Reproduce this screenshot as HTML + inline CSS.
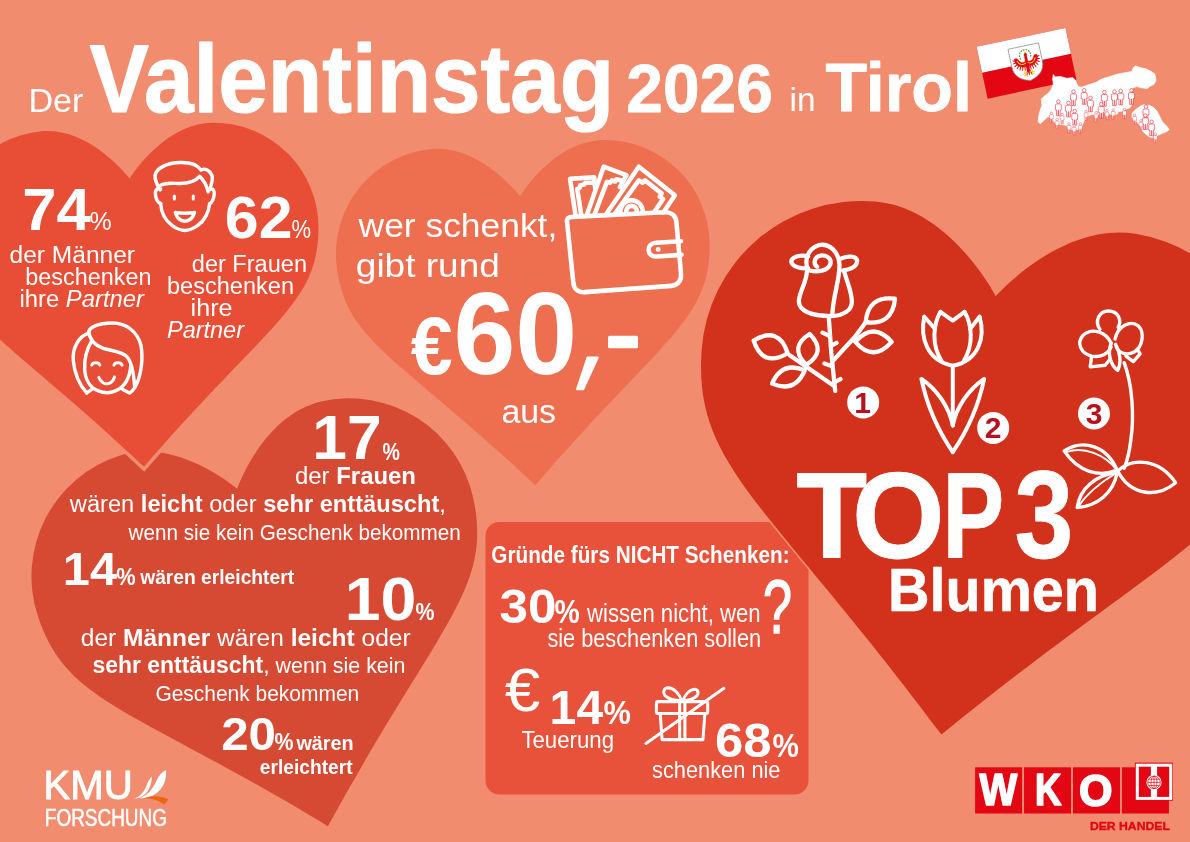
<!DOCTYPE html>
<html lang="de"><head><meta charset="utf-8"><title>Der Valentinstag 2026 in Tirol</title>
<style>
html,body{margin:0;padding:0;background:#F28C6F;}
body{width:1190px;height:842px;overflow:hidden;font-family:"Liberation Sans",sans-serif;}
svg{display:block;font-family:"Liberation Sans",sans-serif;will-change:transform;}
.ic{fill:none;stroke:#fff;stroke-linecap:round;stroke-linejoin:round;}
</style></head><body>
<svg width="1190" height="842" viewBox="0 0 1190 842">
<rect width="1190" height="842" fill="#F28C6F"/>
<!-- hearts -->
<path d="M327.9,826.2 C440.1,621.7 492.3,589.2 473.5,499.2 A126.9,126.9 0 0 0 321.1,401.4 C273.0,412.4 245.8,465.6 237.2,488.8 C218.2,473.1 167.9,440.6 120.8,455.2 A126.9,126.9 0 0 0 37.9,616.3 C66.8,703.6 128.3,705.5 327.9,826.2 Z" fill="#D64A34"/>
<path d="M535.4,485.3 C661.5,338.9 709.4,321.6 709.7,245.4 A105.1,105.1 0 0 0 603.0,139.9 C562.2,140.5 530.9,179.0 520.0,196.3 C507.3,180.3 472.1,145.3 431.5,149.1 A105.1,105.1 0 0 0 336.6,265.3 C344.9,341.0 394.5,353.2 535.4,485.3 Z" fill="#EE6E50"/>
<path d="M144.0,466.8 C270.2,321.3 318.0,304.2 318.5,228.3 A104.8,104.8 0 0 0 212.5,122.8 C171.8,123.2 140.6,161.5 129.6,178.7 C117.0,162.7 82.1,127.7 41.5,131.3 A104.8,104.8 0 0 0 -53.4,246.9 C-45.4,322.3 4.0,334.6 144.0,466.8 Z" fill="#F28C6F" stroke="#F28C6F" stroke-width="7" stroke-linejoin="miter" stroke-miterlimit="10"/>
<path d="M144.0,466.8 C270.2,321.3 318.0,304.2 318.5,228.3 A104.8,104.8 0 0 0 212.5,122.8 C171.8,123.2 140.6,161.5 129.6,178.7 C117.0,162.7 82.1,127.7 41.5,131.3 A104.8,104.8 0 0 0 -53.4,246.9 C-45.4,322.3 4.0,334.6 144.0,466.8 Z" fill="#E84E36"/>
<rect x="485.5" y="522" width="323" height="272.5" rx="14" fill="#E8513A"/>
<path d="M941.4,734.6 C1170.1,548.4 1246.8,535.2 1267.6,420.8 A160.5,160.5 0 0 0 1135.6,233.7 C1074.0,223.7 1016.8,273.2 995.7,296.2 C980.9,268.7 937.4,206.8 875.3,201.5 A160.5,160.5 0 0 0 701.6,350.7 C693.9,466.7 765.0,498.3 941.4,734.6 Z" fill="#F28C6F" stroke="#F28C6F" stroke-width="3.5" stroke-linejoin="miter" stroke-miterlimit="10"/>
<path d="M941.4,734.6 C1170.1,548.4 1246.8,535.2 1267.6,420.8 A160.5,160.5 0 0 0 1135.6,233.7 C1074.0,223.7 1016.8,273.2 995.7,296.2 C980.9,268.7 937.4,206.8 875.3,201.5 A160.5,160.5 0 0 0 701.6,350.7 C693.9,466.7 765.0,498.3 941.4,734.6 Z" fill="#D2321C"/>
<!-- title -->
<text x="28.4" y="111.7" font-size="33" font-weight="400" font-style="normal" fill="#fff" text-anchor="start" textLength="55" lengthAdjust="spacingAndGlyphs">Der</text>
<text x="89.6" y="111.5" font-size="96" font-weight="700" font-style="normal" fill="#fff" text-anchor="start" textLength="524.5" lengthAdjust="spacingAndGlyphs" stroke="#fff" stroke-width="1.2" stroke-linejoin="round">Valentinstag</text>
<text x="626.3" y="111.5" font-size="68.5" font-weight="700" font-style="normal" fill="#fff" text-anchor="start" textLength="146.5" lengthAdjust="spacingAndGlyphs" stroke="#fff" stroke-width="0.8" stroke-linejoin="round">2026</text>
<text x="789.5" y="111.3" font-size="33" font-weight="400" font-style="normal" fill="#fff" text-anchor="start" textLength="26" lengthAdjust="spacingAndGlyphs">in</text>
<text x="825.4" y="111.1" font-size="68.5" font-weight="700" font-style="normal" fill="#fff" text-anchor="start" textLength="146.5" lengthAdjust="spacingAndGlyphs" stroke="#fff" stroke-width="0.8" stroke-linejoin="round">Tirol</text>
<!-- heart 1 -->
<text x="22.2" y="229.9" font-size="59" font-weight="700" font-style="normal" fill="#fff" text-anchor="start" textLength="68.4" lengthAdjust="spacingAndGlyphs">74</text>
<text x="89.4" y="230.2" font-size="26" font-weight="400" font-style="normal" fill="#fff" text-anchor="start" textLength="22.2" lengthAdjust="spacingAndGlyphs">%</text>
<text x="9.6" y="263.3" font-size="23" font-weight="400" font-style="normal" fill="#fff" text-anchor="start" textLength="125.4" lengthAdjust="spacingAndGlyphs">der Männer</text>
<text x="25.3" y="285" font-size="23" font-weight="400" font-style="normal" fill="#fff" text-anchor="start" textLength="126.1" lengthAdjust="spacingAndGlyphs">beschenken</text>
<text x="19.4" y="307.4" font-size="23" font-weight="400" font-style="normal" fill="#fff" text-anchor="start" textLength="124.6" lengthAdjust="spacingAndGlyphs">ihre <tspan font-style="italic">Partner</tspan></text>
<text x="224.8" y="237.6" font-size="59" font-weight="700" font-style="normal" fill="#fff" text-anchor="start" textLength="67.7" lengthAdjust="spacingAndGlyphs">62</text>
<text x="291.6" y="237.9" font-size="26" font-weight="400" font-style="normal" fill="#fff" text-anchor="start" textLength="19.6" lengthAdjust="spacingAndGlyphs">%</text>
<text x="191.8" y="272.3" font-size="23" font-weight="400" font-style="normal" fill="#fff" text-anchor="start" textLength="115.2" lengthAdjust="spacingAndGlyphs">der Frauen</text>
<text x="167.0" y="294.4" font-size="23" font-weight="400" font-style="normal" fill="#fff" text-anchor="start" textLength="127.0" lengthAdjust="spacingAndGlyphs">beschenken</text>
<text x="190.6" y="316.3" font-size="23" font-weight="400" font-style="normal" fill="#fff" text-anchor="start" textLength="41.9" lengthAdjust="spacingAndGlyphs">ihre</text>
<text x="167.0" y="337.6" font-size="23" font-weight="400" font-style="italic" fill="#fff" text-anchor="start" textLength="77.0" lengthAdjust="spacingAndGlyphs">Partner</text>
<!-- heart 2 -->
<text x="358.6" y="237" font-size="34" font-weight="400" font-style="normal" fill="#fff" text-anchor="start" textLength="198.7" lengthAdjust="spacingAndGlyphs">wer schenkt,</text>
<text x="355.8" y="276.8" font-size="34" font-weight="400" font-style="normal" fill="#fff" text-anchor="start" textLength="144.1" lengthAdjust="spacingAndGlyphs">gibt rund</text>
<text x="410.8" y="373.6" font-size="81" font-weight="700" font-style="normal" fill="#fff" text-anchor="start" textLength="41.9" lengthAdjust="spacingAndGlyphs">€</text>
<text x="453.4" y="373.6" font-size="117" font-weight="700" font-style="normal" fill="#fff" text-anchor="start" textLength="123.8" lengthAdjust="spacingAndGlyphs">60</text>
<path d="M587.5,357.5 H597.8 L583.2,389.3 H577 Z" fill="#fff" stroke="#fff" stroke-width="2" stroke-linejoin="round"/>
<rect x="608" y="335.7" width="30" height="12.6" rx="1.5" fill="#fff"/>
<text x="501.4" y="423.1" font-size="33" font-weight="400" font-style="normal" fill="#fff" text-anchor="start" textLength="54.6" lengthAdjust="spacingAndGlyphs">aus</text>
<!-- heart 4 -->
<text x="312.2" y="459.3" font-size="63" font-weight="700" font-style="normal" fill="#fff" text-anchor="start" textLength="69.4" lengthAdjust="spacingAndGlyphs">17</text>
<text x="382.6" y="459.6" font-size="23.6" font-weight="700" font-style="normal" fill="#fff" text-anchor="start" textLength="17.4" lengthAdjust="spacingAndGlyphs">%</text>
<text x="295.0" y="484.3" font-size="23" font-weight="400" font-style="normal" fill="#fff" text-anchor="start" textLength="121.0" lengthAdjust="spacingAndGlyphs">der <tspan font-weight="700">Frauen</tspan></text>
<text x="69.8" y="512.4" font-size="23" font-weight="400" font-style="normal" fill="#fff" text-anchor="start" textLength="376.1" lengthAdjust="spacingAndGlyphs">wären <tspan font-weight="700">leicht</tspan> oder <tspan font-weight="700">sehr enttäuscht</tspan>,</text>
<text x="128.6" y="540.2" font-size="21.5" font-weight="400" font-style="normal" fill="#fff" text-anchor="start" textLength="332.2" lengthAdjust="spacingAndGlyphs">wenn sie kein Geschenk bekommen</text>
<text x="62.8" y="584.5" font-size="46.5" font-weight="700" font-style="normal" fill="#fff" text-anchor="start" textLength="54.2" lengthAdjust="spacingAndGlyphs">14</text>
<text x="116.2" y="584.7" font-size="24" font-weight="700" font-style="normal" fill="#fff" text-anchor="start" textLength="19.4" lengthAdjust="spacingAndGlyphs">%</text>
<text x="140.2" y="584" font-size="21" font-weight="700" font-style="normal" fill="#fff" text-anchor="start" textLength="153.9" lengthAdjust="spacingAndGlyphs">wären erleichtert</text>
<text x="344.8" y="620.1" font-size="61.5" font-weight="700" font-style="normal" fill="#fff" text-anchor="start" textLength="71.6" lengthAdjust="spacingAndGlyphs">10</text>
<text x="415.6" y="620.4" font-size="24" font-weight="700" font-style="normal" fill="#fff" text-anchor="start" textLength="19.0" lengthAdjust="spacingAndGlyphs">%</text>
<text x="80.8" y="645.6" font-size="23" font-weight="400" font-style="normal" fill="#fff" text-anchor="start" textLength="329.8" lengthAdjust="spacingAndGlyphs">der <tspan font-weight="700">Männer</tspan> wären <tspan font-weight="700">leicht</tspan> oder</text>
<text x="92.4" y="673.4" font-size="23" font-weight="400" font-style="normal" fill="#fff" text-anchor="start" textLength="313.1" lengthAdjust="spacingAndGlyphs"><tspan font-weight="700">sehr enttäuscht</tspan>,<tspan font-size="21.5"> wenn sie kein</tspan></text>
<text x="155.4" y="701.2" font-size="21.5" font-weight="400" font-style="normal" fill="#fff" text-anchor="start" textLength="203.8" lengthAdjust="spacingAndGlyphs">Geschenk bekommen</text>
<text x="221.2" y="750.2" font-size="45.5" font-weight="700" font-style="normal" fill="#fff" text-anchor="start" textLength="54.8" lengthAdjust="spacingAndGlyphs">20</text>
<text x="274.6" y="750.4" font-size="24" font-weight="700" font-style="normal" fill="#fff" text-anchor="start" textLength="19.0" lengthAdjust="spacingAndGlyphs">%</text>
<text x="296.4" y="750.2" font-size="21" font-weight="700" font-style="normal" fill="#fff" text-anchor="start" textLength="57.2" lengthAdjust="spacingAndGlyphs">wären</text>
<text x="259.8" y="773.7" font-size="21" font-weight="700" font-style="normal" fill="#fff" text-anchor="start" textLength="92.8" lengthAdjust="spacingAndGlyphs">erleichtert</text>
<!-- box -->
<text x="491.3" y="562.9" font-size="24" font-weight="700" font-style="normal" fill="#fff" text-anchor="start" textLength="298.3" lengthAdjust="spacingAndGlyphs">Gründe fürs NICHT Schenken:</text>
<text x="499.6" y="622.8" font-size="47.5" font-weight="700" font-style="normal" fill="#fff" text-anchor="start" textLength="57.0" lengthAdjust="spacingAndGlyphs">30</text>
<text x="554.6" y="623" font-size="34" font-weight="700" font-style="normal" fill="#fff" text-anchor="start" textLength="25.2" lengthAdjust="spacingAndGlyphs">%</text>
<text x="587.0" y="622" font-size="25" font-weight="400" font-style="normal" fill="#fff" text-anchor="start" textLength="173.6" lengthAdjust="spacingAndGlyphs">wissen nicht, wen</text>
<text x="547.4" y="646.8" font-size="25" font-weight="400" font-style="normal" fill="#fff" text-anchor="start" textLength="213.7" lengthAdjust="spacingAndGlyphs">sie beschenken sollen</text>
<text x="763.0" y="632.5" font-size="76" font-weight="400" font-style="normal" fill="#fff" text-anchor="start" textLength="29.0" lengthAdjust="spacingAndGlyphs" stroke="#fff" stroke-width="1.6">?</text>
<text x="504.8" y="711" font-size="62" font-weight="400" font-style="normal" fill="#fff" text-anchor="start" textLength="35.6" lengthAdjust="spacingAndGlyphs">€</text>
<text x="549.6" y="724" font-size="48" font-weight="700" font-style="normal" fill="#fff" text-anchor="start" textLength="53.6" lengthAdjust="spacingAndGlyphs">14</text>
<text x="603.4" y="724.2" font-size="34" font-weight="700" font-style="normal" fill="#fff" text-anchor="start" textLength="27.4" lengthAdjust="spacingAndGlyphs">%</text>
<text x="521.4" y="748" font-size="23" font-weight="400" font-style="normal" fill="#fff" text-anchor="start" textLength="92.6" lengthAdjust="spacingAndGlyphs">Teuerung</text>
<text x="715.0" y="756.8" font-size="48" font-weight="700" font-style="normal" fill="#fff" text-anchor="start" textLength="56.5" lengthAdjust="spacingAndGlyphs">68</text>
<text x="772.6" y="757" font-size="34" font-weight="700" font-style="normal" fill="#fff" text-anchor="start" textLength="26.4" lengthAdjust="spacingAndGlyphs">%</text>
<text x="652.0" y="778.2" font-size="24" font-weight="400" font-style="normal" fill="#fff" text-anchor="start" textLength="128.5" lengthAdjust="spacingAndGlyphs">schenken nie</text>
<!-- heart 3 -->
<text x="796.15" y="557.7" font-size="122" font-weight="700" font-style="normal" fill="#fff" text-anchor="start" textLength="71" lengthAdjust="spacingAndGlyphs" stroke="#fff" stroke-width="0.8" stroke-linejoin="round">T</text>
<text x="852.1" y="557.7" font-size="122" font-weight="700" font-style="normal" fill="#fff" text-anchor="start" textLength="92.7" lengthAdjust="spacingAndGlyphs" stroke="#fff" stroke-width="0.8" stroke-linejoin="round">O</text>
<text x="942.5" y="557.7" font-size="122" font-weight="700" font-style="normal" fill="#fff" text-anchor="start" textLength="61.7" lengthAdjust="spacingAndGlyphs" stroke="#fff" stroke-width="0.8" stroke-linejoin="round">P</text>
<text x="1014.5" y="557.7" font-size="124" font-weight="700" font-style="normal" fill="#fff" text-anchor="start" textLength="58.85" lengthAdjust="spacingAndGlyphs" stroke="#fff" stroke-width="0.8" stroke-linejoin="round">3</text>
<text x="888.0" y="610.6" font-size="62" font-weight="700" font-style="normal" fill="#fff" text-anchor="start" textLength="210.9" lengthAdjust="spacingAndGlyphs" stroke="#fff" stroke-width="0.6" stroke-linejoin="round">Blumen</text>
<g transform="translate(145,155) scale(0.10101)" class="ic" stroke-width="34">
<path d="M150,345 C120,300 95,250 100,200 C110,130 220,78 350,75 C440,73 520,95 555,150 C590,125 640,150 662,200 C680,250 650,300 640,345"/>
<path d="M140,310 C190,270 260,280 330,282 C420,284 500,260 540,212 C585,250 610,300 625,365"/>
<path d="M155,335 C120,325 100,345 103,385 C106,430 125,470 155,480"/>
<path d="M640,340 C672,330 690,350 685,390 C680,440 665,470 640,482"/>
<path d="M155,480 C160,570 190,640 270,700 C320,735 360,748 395,748 C430,748 470,735 520,700 C600,640 630,570 640,482"/>
<path d="M290,405 L290,436 M478,405 L478,436" stroke-width="30"/>
<path d="M300,570 C360,578 430,578 490,570 C475,625 440,655 395,655 C350,655 315,625 300,570 Z"/>
</g>
<g transform="translate(65,315) scale(0.10095)" class="ic" stroke-width="34">
<path d="M215,772 C150,700 95,590 82,450 C72,330 130,215 235,180"/>
<path d="M270,735 L215,772"/>
<path d="M235,180 C230,120 330,82 470,80 C610,80 720,170 752,300 C775,420 760,600 690,722 C675,745 660,760 640,772 L572,738"/>
<path d="M235,165 C245,240 300,300 380,330 C460,355 560,360 610,410 C660,460 680,560 690,715"/>
<path d="M262,262 C215,340 190,440 195,540 C200,640 250,720 330,752 C385,775 445,775 500,752 C580,720 640,640 652,500"/>
<path d="M265,497 C275,465 335,465 345,497 M485,497 C495,465 555,465 565,497" stroke-width="30"/>
<path d="M335,618 C350,665 395,682 412,682 C440,682 480,660 490,615" stroke-width="30"/>
</g>
<g transform="translate(540,150) scale(0.19002)" class="ic" stroke-width="24">
<path d="M172,352 L655,328 C690,326 715,345 718,380 L742,650 C745,690 725,712 690,715 L235,748 C200,750 178,732 175,695 L142,375 C140,360 150,352 172,352 Z"/>
<path d="M742,480 L610,488 C585,490 570,505 572,528 C574,550 590,562 615,560 L745,552"/>
<circle cx="622" cy="523" r="13" fill="#fff" stroke="none"/>
<path d="M188,350 L158,152 L285,143 L290,200"/>
<path d="M218,348 L196,205 L208,200 L212,185 L232,182 L238,172 L282,172"/>
<path d="M245,346 L335,88 L455,132 L420,195"/>
<path d="M285,345 L352,168 L368,172 L378,160 L395,166 L402,154 L432,162"/>
<path d="M345,342 L520,88 L710,238 L650,328"/>
<path d="M392,338 L520,160 L540,172 L552,160 L640,228 L630,245 L648,258 L600,328"/>
<path d="M422,336 C422,292 448,264 482,264 C516,264 542,292 542,332"/>
<path d="M452,335 C453,308 465,294 482,294 C499,294 511,308 512,333"/>
</g>
<g transform="translate(745,235) scale(0.19608)" class="ic" stroke-width="22">
<path d="M322,178 C300,130 320,70 375,52 C430,40 478,85 482,150 C484,230 450,300 445,412"/>
<path d="M330,182 C370,190 420,185 435,150 C445,115 405,95 375,108 C350,120 350,150 368,162"/>
<path d="M322,170 C290,172 240,165 236,135 C238,108 290,100 322,108"/>
<path d="M485,122 C520,105 568,105 572,132 C570,165 530,178 500,180"/>
<path d="M316,185 C312,250 270,300 275,345 C282,395 350,412 440,414 C500,412 545,385 545,340 C545,290 520,240 505,182"/>
<path d="M427,415 L440,600 L460,795"/>
<path d="M395,498 L432,515 M467,550 L438,566 M405,655 L442,668 M487,735 L455,752"/>
<path d="M450,640 L560,520 L620,440"/>
<path d="M451,768 L228,613"/>
<path d="M615,445 Q752,463 765,325 Q628,307 615,445 Z"/>
<path d="M562,545 Q655,651 748,545 Q655,439 562,545 Z"/>
<path d="M218,603 Q172,462 44,538 Q90,679 218,603 Z"/>
<path d="M312,662 Q420,595 330,505 Q222,572 312,662 Z"/>
<path d="M305,690 Q188,641 138,758 Q255,807 305,690 Z"/>
</g>
<g transform="translate(910,300) scale(0.19011)" class="ic" stroke-width="21">
<path d="M75,88 C52,200 90,320 225,346 C360,320 398,200 366,88"/>
<path d="M75,88 L132,152 M366,88 L316,152"/>
<path d="M160,62 C122,130 112,235 165,318"/>
<path d="M287,62 C326,130 336,235 284,318"/>
<path d="M160,62 L225,108 L287,62"/>
<path d="M225,346 L225,660"/>
<path d="M225,800 C150,690 90,560 60,415 C140,470 205,560 225,660"/>
<path d="M225,800 C300,690 360,560 390,415 C310,470 245,560 225,660"/>
</g>
<g transform="translate(1055,300) scale(0.26103)" class="ic" stroke-width="13">
<path d="M172,112 C150,80 170,42 205,42 C240,42 258,75 242,105"/>
<path d="M215,165 C195,120 140,105 108,135 C80,165 100,205 140,215 C175,222 205,205 215,180"/>
<path d="M230,150 C240,100 290,75 320,100 C345,125 335,180 305,198 C275,215 245,205 235,180"/>
<path d="M140,218 L135,256 L192,250 L210,228"/>
<path d="M272,215 L300,236 L326,206 L315,188"/>
<path d="M216,165 C200,200 210,245 240,270 C255,240 250,200 232,170"/>
<path d="M265,240 C295,320 305,440 290,540 C284,590 275,620 265,645"/>
<path d="M238,652 C200,560 110,530 35,578 C90,660 170,680 238,652 Z"/>
<path d="M45,582 C110,560 190,590 236,650" stroke-width="7"/>
<path d="M238,660 C160,670 95,720 85,795 C160,790 225,740 238,660 Z"/>
<path d="M90,790 C130,730 190,690 236,662" stroke-width="7"/>
<path d="M240,655 C300,600 400,610 462,700 C390,760 290,750 240,655 Z"/>
</g>
<g transform="translate(635,675) scale(0.09506)" class="ic" stroke-width="32">
<rect x="225" y="280" width="540" height="125" rx="18"/>
<path d="M265,405 L285,680 L715,680 L735,405"/>
<path d="M470,280 L470,680 M525,280 L525,680"/>
<path d="M490,272 C470,200 410,135 345,135 C300,140 290,185 315,215 C350,255 430,268 490,272"/>
<path d="M502,272 C530,200 580,150 630,150 C668,155 672,195 650,220 C615,255 550,268 502,272"/>
<path d="M115,720 L935,140" stroke-width="32"/>
</g>
<g font-weight="700" font-size="30" text-anchor="middle" fill="#B5121F">
<circle cx="863.2" cy="402.4" r="16" fill="#fff"/>
<text x="862.6" y="412.6">1</text><rect x="857" y="410.2" width="12.8" height="2.4" fill="#B5121F"/>
<circle cx="993.2" cy="427.9" r="16" fill="#fff"/>
<text x="993.2" y="438.4">2</text>
<circle cx="1094" cy="413.5" r="16" fill="#fff"/>
<text x="1094" y="424">3</text>
</g>
<g transform="translate(976.6,46.8) rotate(-12)">
<rect x="0" y="0" width="90.8" height="53" fill="#E30613"/>
<rect x="0" y="0" width="90.8" height="26.5" fill="#fff"/>
<path d="M30.2,9 H61.4 V27 C61.4,37.5 54.5,42 45.8,44.2 C37.1,42 30.2,37.5 30.2,27 Z" fill="#fff" stroke="#8a8a8a" stroke-width="0.7"/>
<g fill="none" stroke="#2f8f3f" stroke-width="1.1" stroke-dasharray="1.6 1.1"><path d="M40.6,21.5 C38.6,16 42.5,12.6 46,12.8 C49.8,13 52.6,16.5 50.6,21.5"/></g>
<g fill="#E30613" stroke="#E30613" stroke-width="0.5" stroke-linejoin="round">
<path d="M34.2,20 C35.6,19.4 37.4,19.8 38,21.4 C38.8,24.4 41.8,26.2 44.6,24.4 L44.9,19.5 C44.4,17.5 45.2,16 46.4,16.2 C47.5,16.5 47.3,18 47,19.5 L47,24.4 C49.8,26.2 52.8,24.4 53.6,21.4 C54.2,19.8 56,19.4 57.4,20 C57.8,26 53.5,30.5 47.6,29.5 L47.2,33.5 L46,38.5 L44.8,33.5 L44.2,29.5 C38,30.5 33.8,26 34.2,20 Z"/>
</g>
<g fill="none" stroke="#E30613" stroke-width="1" stroke-linecap="round">
<path d="M34.5,22 L32.6,21.4 M34.8,24 L32.6,24.4 M35.6,26 L33.4,27.4 M37,27.8 L35.2,30 M38.8,29 L37.6,31.8 M40.8,29.8 L40.2,32.6 M43,30 L42.8,33"/>
<path d="M57.1,22 L59,21.4 M56.8,24 L59,24.4 M56,26 L58.2,27.4 M54.6,27.8 L56.4,30 M52.8,29 L54,31.8 M50.8,29.8 L51.4,32.6 M48.6,30 L48.8,33"/>
<path d="M45,33 L43.4,38.2 M47,33 L48.6,38.2"/>
</g>
<g fill="none" stroke="#F2D21B" stroke-width="1" stroke-linecap="round">
<path d="M36.6,22.6 C37.8,26.6 41.6,28 44.4,26.2"/>
<path d="M55,22.6 C53.8,26.6 50,28 47.2,26.2"/>
<path d="M45.4,15.6 L46.8,15.2"/>
<path d="M41.6,34.2 L42.4,37.6 M40,36.4 L44,35.4 M40.6,38.4 L42.4,37.6 L43.6,39"/>
<path d="M50,34.2 L49.2,37.6 M51.6,36.4 L47.6,35.4 M51,38.4 L49.2,37.6 L48,39"/>
</g>
</g>
<g transform="translate(1030,55) scale(0.12606)">
<polygon points="185,155 200,175 240,170 290,185 340,180 360,200 380,250 410,255 470,235 530,215 560,195 620,175 700,150 760,140 810,130 820,100 840,85 870,100 920,110 960,130 990,150 1000,200 985,230 950,250 930,265 880,260 850,250 815,260 800,290 800,330 805,400 790,420 760,430 730,445 700,450 690,470 650,475 600,455 560,470 520,480 490,470 450,490 430,520 410,570 400,590 310,590 290,560 250,550 210,550 190,530 170,500 140,490 110,520 80,545 65,530 70,480 80,440 95,400 90,350 110,330 150,300 170,270 185,230 180,190" fill="#fff" stroke="#fff" stroke-width="6" stroke-linejoin="round"/>
<polygon points="810,460 830,440 870,410 900,395 950,400 985,420 1010,450 1030,490 1050,530 1080,560 1105,590 1090,605 1050,620 1010,640 990,655 950,650 920,630 890,600 870,560 850,530 820,520 810,490" fill="#fff" stroke="#fff" stroke-width="6" stroke-linejoin="round"/>
<g fill="#fff" stroke="#E30613" stroke-width="0.5" stroke-linejoin="round"><g transform="translate(345,275) scale(7.9)"><path d="M-3,5.6 Q-3,4.2 -1.7,4.2 H1.7 Q3,4.2 3,5.6 V10.2 H1.9 V16 H0.25 V10.8 H-0.25 V16 H-1.9 V10.2 H-3 Z"/><circle cx="0" cy="1.9" r="1.8"/></g><g transform="translate(430,265) scale(7.9)"><path d="M-3,5.6 Q-3,4.2 -1.7,4.2 H1.7 Q3,4.2 3,5.6 V10.2 H1.9 V16 H0.25 V10.8 H-0.25 V16 H-1.9 V10.2 H-3 Z"/><circle cx="0" cy="1.9" r="1.8"/></g><g transform="translate(480,325) scale(7.9)"><path d="M-3,5.6 Q-3,4.2 -1.7,4.2 H1.7 Q3,4.2 3,5.6 V10.2 H1.9 V16 H0.25 V10.8 H-0.25 V16 H-1.9 V10.2 H-3 Z"/><circle cx="0" cy="1.9" r="1.8"/></g><g transform="translate(590,280) scale(7.9)"><path d="M-3,5.6 Q-3,4.2 -1.7,4.2 H1.7 Q3,4.2 3,5.6 V10.2 H1.9 V16 H0.25 V10.8 H-0.25 V16 H-1.9 V10.2 H-3 Z"/><circle cx="0" cy="1.9" r="1.8"/></g><g transform="translate(670,275) scale(7.9)"><path d="M-3,5.6 Q-3,4.2 -1.7,4.2 H1.7 Q3,4.2 3,5.6 V10.2 H1.9 V16 H0.25 V10.8 H-0.25 V16 H-1.9 V10.2 H-3 Z"/><circle cx="0" cy="1.9" r="1.8"/></g><g transform="translate(720,270) scale(7.9)"><path d="M-3,5.6 Q-3,4.2 -1.7,4.2 H1.7 Q3,4.2 3,5.6 V10.2 H1.9 V16 H0.25 V10.8 H-0.25 V16 H-1.9 V10.2 H-3 Z"/><circle cx="0" cy="1.9" r="1.8"/></g><g transform="translate(805,265) scale(7.9)"><path d="M-3,5.6 Q-3,4.2 -1.7,4.2 H1.7 Q3,4.2 3,5.6 V10.2 H1.9 V16 H0.25 V10.8 H-0.25 V16 H-1.9 V10.2 H-3 Z"/><circle cx="0" cy="1.9" r="1.8"/></g><g transform="translate(225,355) scale(7.9)"><path d="M-3,5.6 Q-3,4.2 -1.7,4.2 H1.7 Q3,4.2 3,5.6 V10.2 H1.9 V16 H0.25 V10.8 H-0.25 V16 H-1.9 V10.2 H-3 Z"/><circle cx="0" cy="1.9" r="1.8"/></g><g transform="translate(305,365) scale(7.9)"><path d="M-3,5.6 Q-3,4.2 -1.7,4.2 H1.7 Q3,4.2 3,5.6 V10.2 H1.9 V16 H0.25 V10.8 H-0.25 V16 H-1.9 V10.2 H-3 Z"/><circle cx="0" cy="1.9" r="1.8"/></g><g transform="translate(355,430) scale(7.9)"><path d="M-3,5.6 Q-3,4.2 -1.7,4.2 H1.7 Q3,4.2 3,5.6 V10.2 H1.9 V16 H0.25 V10.8 H-0.25 V16 H-1.9 V10.2 H-3 Z"/><circle cx="0" cy="1.9" r="1.8"/></g><g transform="translate(565,375) scale(7.9)"><path d="M-3,5.6 Q-3,4.2 -1.7,4.2 H1.7 Q3,4.2 3,5.6 V10.2 H1.9 V16 H0.25 V10.8 H-0.25 V16 H-1.9 V10.2 H-3 Z"/><circle cx="0" cy="1.9" r="1.8"/></g><g transform="translate(920,395) scale(7.9)"><path d="M-3,5.6 Q-3,4.2 -1.7,4.2 H1.7 Q3,4.2 3,5.6 V10.2 H1.9 V16 H0.25 V10.8 H-0.25 V16 H-1.9 V10.2 H-3 Z"/><circle cx="0" cy="1.9" r="1.8"/></g><g transform="translate(915,465) scale(7.9)"><path d="M-3,5.6 Q-3,4.2 -1.7,4.2 H1.7 Q3,4.2 3,5.6 V10.2 H1.9 V16 H0.25 V10.8 H-0.25 V16 H-1.9 V10.2 H-3 Z"/><circle cx="0" cy="1.9" r="1.8"/></g><g transform="translate(965,515) scale(7.9)"><path d="M-3,5.6 Q-3,4.2 -1.7,4.2 H1.7 Q3,4.2 3,5.6 V10.2 H1.9 V16 H0.25 V10.8 H-0.25 V16 H-1.9 V10.2 H-3 Z"/><circle cx="0" cy="1.9" r="1.8"/></g><g transform="translate(170,451) scale(5.2)"><path d="M-3,5.6 Q-3,4.2 -1.7,4.2 H1.7 Q3,4.2 3,5.6 V10.2 H1.9 V16 H0.25 V10.8 H-0.25 V16 H-1.9 V10.2 H-3 Z"/><circle cx="0" cy="1.9" r="1.8"/></g><g transform="translate(255,461) scale(5.2)"><path d="M-3,5.6 Q-3,4.2 -1.7,4.2 H1.7 Q3,4.2 3,5.6 V10.2 H1.9 V16 H0.25 V10.8 H-0.25 V16 H-1.9 V10.2 H-3 Z"/><circle cx="0" cy="1.9" r="1.8"/></g><g transform="translate(215,501) scale(5.2)"><path d="M-3,5.6 Q-3,4.2 -1.7,4.2 H1.7 Q3,4.2 3,5.6 V10.2 H1.9 V16 H0.25 V10.8 H-0.25 V16 H-1.9 V10.2 H-3 Z"/><circle cx="0" cy="1.9" r="1.8"/></g><g transform="translate(310,536) scale(5.2)"><path d="M-3,5.6 Q-3,4.2 -1.7,4.2 H1.7 Q3,4.2 3,5.6 V10.2 H1.9 V16 H0.25 V10.8 H-0.25 V16 H-1.9 V10.2 H-3 Z"/><circle cx="0" cy="1.9" r="1.8"/></g><g transform="translate(400,536) scale(5.2)"><path d="M-3,5.6 Q-3,4.2 -1.7,4.2 H1.7 Q3,4.2 3,5.6 V10.2 H1.9 V16 H0.25 V10.8 H-0.25 V16 H-1.9 V10.2 H-3 Z"/><circle cx="0" cy="1.9" r="1.8"/></g><g transform="translate(445,436) scale(5.2)"><path d="M-3,5.6 Q-3,4.2 -1.7,4.2 H1.7 Q3,4.2 3,5.6 V10.2 H1.9 V16 H0.25 V10.8 H-0.25 V16 H-1.9 V10.2 H-3 Z"/><circle cx="0" cy="1.9" r="1.8"/></g><g transform="translate(525,446) scale(5.2)"><path d="M-3,5.6 Q-3,4.2 -1.7,4.2 H1.7 Q3,4.2 3,5.6 V10.2 H1.9 V16 H0.25 V10.8 H-0.25 V16 H-1.9 V10.2 H-3 Z"/><circle cx="0" cy="1.9" r="1.8"/></g><g transform="translate(610,431) scale(5.2)"><path d="M-3,5.6 Q-3,4.2 -1.7,4.2 H1.7 Q3,4.2 3,5.6 V10.2 H1.9 V16 H0.25 V10.8 H-0.25 V16 H-1.9 V10.2 H-3 Z"/><circle cx="0" cy="1.9" r="1.8"/></g><g transform="translate(660,426) scale(5.2)"><path d="M-3,5.6 Q-3,4.2 -1.7,4.2 H1.7 Q3,4.2 3,5.6 V10.2 H1.9 V16 H0.25 V10.8 H-0.25 V16 H-1.9 V10.2 H-3 Z"/><circle cx="0" cy="1.9" r="1.8"/></g><g transform="translate(750,421) scale(5.2)"><path d="M-3,5.6 Q-3,4.2 -1.7,4.2 H1.7 Q3,4.2 3,5.6 V10.2 H1.9 V16 H0.25 V10.8 H-0.25 V16 H-1.9 V10.2 H-3 Z"/><circle cx="0" cy="1.9" r="1.8"/></g><g transform="translate(350,551) scale(5.2)"><path d="M-3,5.6 Q-3,4.2 -1.7,4.2 H1.7 Q3,4.2 3,5.6 V10.2 H1.9 V16 H0.25 V10.8 H-0.25 V16 H-1.9 V10.2 H-3 Z"/><circle cx="0" cy="1.9" r="1.8"/></g><g transform="translate(830,466) scale(5.2)"><path d="M-3,5.6 Q-3,4.2 -1.7,4.2 H1.7 Q3,4.2 3,5.6 V10.2 H1.9 V16 H0.25 V10.8 H-0.25 V16 H-1.9 V10.2 H-3 Z"/><circle cx="0" cy="1.9" r="1.8"/></g><g transform="translate(880,511) scale(5.2)"><path d="M-3,5.6 Q-3,4.2 -1.7,4.2 H1.7 Q3,4.2 3,5.6 V10.2 H1.9 V16 H0.25 V10.8 H-0.25 V16 H-1.9 V10.2 H-3 Z"/><circle cx="0" cy="1.9" r="1.8"/></g><g transform="translate(995,616) scale(5.2)"><path d="M-3,5.6 Q-3,4.2 -1.7,4.2 H1.7 Q3,4.2 3,5.6 V10.2 H1.9 V16 H0.25 V10.8 H-0.25 V16 H-1.9 V10.2 H-3 Z"/><circle cx="0" cy="1.9" r="1.8"/></g></g>
</g>
<text x="43.6" y="799" font-size="41" fill="#fff" stroke="#fff" stroke-width="1" stroke-linejoin="round" textLength="89.2" lengthAdjust="spacingAndGlyphs">KMU</text>
<text x="44.8" y="826.2" font-size="23" fill="#fff" stroke="#fff" stroke-width="0.5" textLength="122.2" lengthAdjust="spacingAndGlyphs">FORSCHUNG</text>
<g transform="translate(30,750) scale(0.142857)">
<path d="M722,342 C770,330 800,290 815,250 C825,225 838,200 852,186 C852,240 835,300 770,335 Z" fill="#fff"/>
<path d="M768,338 C840,310 870,250 890,205 C905,175 925,155 952,140 C958,215 930,300 820,335 Z" fill="#fff"/>
<path d="M795,338 C850,318 910,318 968,345 C960,360 950,372 938,380 C900,350 850,338 795,338 Z" fill="#E8650E"/>
</g>
<rect x="975.10" y="767.3" width="47.0" height="46.2" fill="#E30613"/>
<rect x="1024.05" y="767.3" width="47.0" height="46.2" fill="#E30613"/>
<rect x="1073.00" y="767.3" width="47.0" height="46.2" fill="#E30613"/>
<rect x="1121.95" y="767.3" width="47.0" height="46.2" fill="#E30613"/>
<g font-weight="700" font-size="44" fill="#fff" stroke="#fff" stroke-width="1.7" stroke-linejoin="round" lengthAdjust="spacingAndGlyphs">
<text x="979.5" y="805.2" textLength="37.7" lengthAdjust="spacingAndGlyphs">W</text>
<text x="1035" y="805.2" textLength="26.5" lengthAdjust="spacingAndGlyphs">K</text>
<text x="1079" y="805.6" textLength="33.5" lengthAdjust="spacingAndGlyphs">O</text>
</g>
<rect x="1134.9" y="762.6" width="38" height="38.1" fill="#E30613"/>
<rect x="1137.3" y="765.2" width="33.4" height="33.2" fill="none" stroke="#fff" stroke-width="3"/>
<rect x="1150.9" y="766" width="6.2" height="32" fill="#fff"/>
<circle cx="1154" cy="782.4" r="7.6" fill="#fff"/>
<g fill="none" stroke="#E30613" stroke-width="0.7"><circle cx="1154" cy="782.4" r="6.3"/><ellipse cx="1154" cy="782.4" rx="3" ry="6.3"/><path d="M1147.7,782.4 H1160.3 M1154,776.1 V788.7 M1148.6,779.2 H1159.4 M1148.6,785.6 H1159.4"/></g>
<text x="1089.9" y="829.7" font-size="11.2" font-weight="700" fill="#E30613" stroke="#E30613" stroke-width="0.35" textLength="80" lengthAdjust="spacingAndGlyphs">DER HANDEL</text>
</svg>
</body></html>
